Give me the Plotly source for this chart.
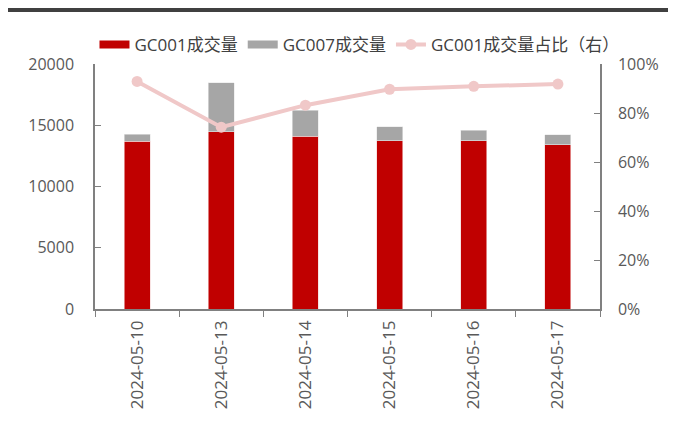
import plotly.graph_objects as go

dates = ["2024-05-10", "2024-05-13", "2024-05-14", "2024-05-15", "2024-05-16", "2024-05-17"]
gc001 = [13690, 14450, 14120, 13740, 13740, 13390]
gc007 = [590, 4000, 2120, 1140, 870, 815]
ratio = [92.9, 74.2, 83.2, 89.7, 90.9, 91.8]
left_ticks = [0, 5000, 10000, 15000, 20000]
left_labels = ["0", "5000", "10000", "15000", "20000"]
right_ticks = [0, 20, 40, 60, 80, 100]
right_labels = ["0%", "20%", "40%", "60%", "80%", "100%"]

red = "#c00000"
gray = "#a6a6a6"
pink = "#f0c8c8"
font = "Open Sans, Noto Sans CJK SC, sans-serif"

fig = go.Figure()
fig.add_trace(go.Bar(x=dates, y=gc001, marker=dict(color=red, line=dict(color="#f4d0d0", width=0.6)),
                     width=0.31, showlegend=False, name="GC001成交量"))
fig.add_trace(go.Bar(x=dates, y=gc007, marker=dict(color=gray, line=dict(color="#e8e8e8", width=0.6)),
                     width=0.31, showlegend=False, name="GC007成交量"))
fig.add_trace(go.Scatter(x=dates, y=ratio, yaxis="y2", mode="lines+markers",
                         line=dict(color=pink, width=4), marker=dict(size=11, color=pink),
                         showlegend=False, name="GC001成交量占比（右）"))
# legend-only entries
fig.add_trace(go.Scatter(x=[None], y=[None], mode="lines", line=dict(color=red, width=8), name="GC001成交量"))
fig.add_trace(go.Scatter(x=[None], y=[None], mode="lines", line=dict(color=gray, width=8), name="GC007成交量"))
fig.add_trace(go.Scatter(x=[None], y=[None], mode="lines+markers", line=dict(color=pink, width=4),
                         marker=dict(size=11, color=pink), name="GC001成交量占比（右）"))

fig.update_layout(
    width=676, height=423,
    margin=dict(l=87, r=84, t=56, b=122, autoexpand=False),
    barmode="stack",
    plot_bgcolor="white", paper_bgcolor="white",
    font=dict(family=font, size=16, color="#595959"),
    legend=dict(orientation="h", traceorder="normal", x=-0.001, xanchor="left", y=1.078, yanchor="middle",
                font=dict(size=17, color="#404040"), itemwidth=30, tracegroupgap=0,
                bgcolor="rgba(0,0,0,0)"),
    xaxis=dict(type="category", tickson="boundaries", ticks="outside", ticklen=6,
               tickcolor="#808080", showline=True, linecolor="#808080", linewidth=1.5,
               tickangle=-90, showgrid=False, automargin=False, ticklabelstandoff=3,
               tickfont=dict(size=17, color="#595959")),
    yaxis=dict(range=[0, 20000], tickvals=left_ticks, ticktext=left_labels, ticks="inside", ticklen=6,
               tickcolor="#808080", showline=True, linecolor="#808080", linewidth=1.5,
               showgrid=False, zeroline=False, automargin=False, ticklabelstandoff=16,
               tickfont=dict(size=16, color="#595959")),
    yaxis2=dict(range=[0, 100], overlaying="y", side="right", tickvals=right_ticks, ticktext=right_labels,
                ticks="inside", ticklen=6, tickcolor="#808080", showline=True,
                linecolor="#808080", linewidth=1.5, showgrid=False, zeroline=False, automargin=False,
                ticklabelstandoff=13, tickfont=dict(size=16, color="#595959")),
    shapes=[dict(type="line", xref="paper", yref="paper", x0=-0.175, x1=1.2,
                 y0=1.22, y1=1.22, line=dict(color="#404040", width=4))],
)

fig.write_html("out.html")
